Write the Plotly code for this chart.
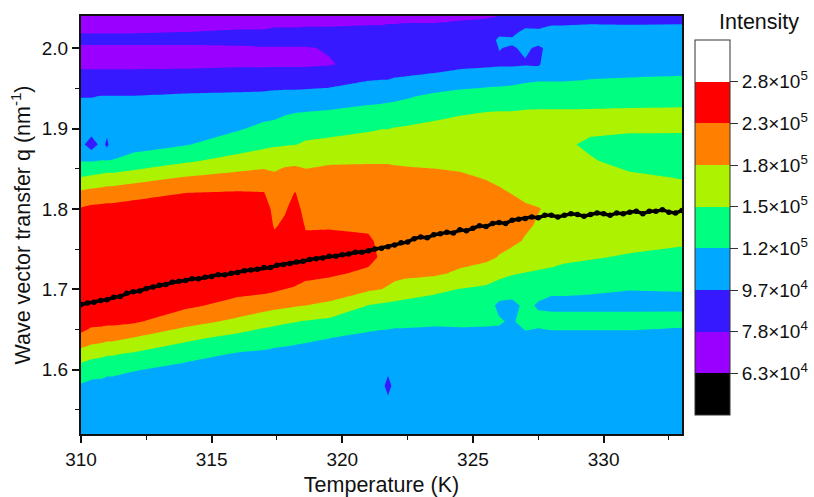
import math
import numpy as np
import plotly.graph_objects as go

q_rows = [1.52,1.54,1.56,1.58,1.60,1.62,1.64,1.66,1.68,1.70,1.72,1.74,1.76,1.78,1.80,1.82,1.84,1.86,1.88,1.90,1.92,1.94,1.96,1.98,2.00,2.01,2.02,2.04]

# intensity in units of 10^4, one list per temperature, ordered as q_rows
t_310 = [10.7,10.7,10.7,11.7,13.6,16.6,21.9,24.5,26.2,26.8,26.8,26.8,26.8,26.8,23.0,19.0,14.7,11.8,10.2,10.6,10.2,9.6,8.5,7.5,7.5,8.3,7.7,7.3]
t_3104 = [10.7,10.7,10.7,11.3,13.1,15.8,20.4,24.0,25.6,26.8,26.8,26.8,26.8,26.8,23.8,19.6,15.1,11.8,8.7,10.7,10.2,9.6,8.5,7.5,7.5,8.3,7.7,7.3]
t_3108 = [10.7,10.7,10.7,11.2,13.0,15.4,20.0,23.9,25.4,26.8,26.8,26.8,26.8,26.8,23.9,20.0,15.5,12.0,10.3,10.7,10.2,9.7,8.5,7.5,7.5,8.3,7.7,7.3]
t_311 = [10.7,10.7,10.7,11.0,12.7,15.1,19.5,23.8,25.3,26.8,26.8,26.8,26.8,26.8,24.0,20.3,15.8,12.0,9.2,10.3,10.2,9.7,8.5,7.5,7.5,8.3,7.7,7.3]
t_3112 = [10.7,10.7,10.7,11.0,12.7,15.1,19.5,23.8,25.3,26.8,26.8,26.8,26.8,26.8,24.0,20.3,15.8,12.0,11.0,10.7,10.2,9.7,8.5,7.5,7.5,8.3,7.7,7.3]
t_312 = [10.7,10.7,10.7,10.8,12.1,14.5,18.3,23.3,25.1,26.8,26.8,26.8,26.8,26.8,24.5,21.1,16.5,12.6,11.3,10.8,10.3,9.7,8.5,7.5,7.5,8.3,7.7,7.3]
t_314 = [10.7,10.7,10.7,10.7,11.2,12.9,15.6,19.9,23.5,25.1,26.8,26.8,26.8,26.8,25.6,22.6,18.3,14.3,11.8,11.1,10.4,9.9,8.6,7.5,7.5,8.3,7.8,7.3]
t_316 = [10.7,10.7,10.7,10.6,10.8,11.8,13.9,17.4,21.2,24.0,25.6,26.8,26.8,26.8,25.6,23.0,19.5,15.9,13.3,11.7,10.7,10.0,8.7,7.6,7.6,8.3,7.9,7.3]
t_317 = [10.7,10.7,10.7,10.5,10.7,11.6,13.2,16.0,20.0,23.8,25.6,26.8,26.8,26.8,25.6,22.8,19.8,16.8,14.1,12.5,11.2,10.1,8.7,7.6,7.7,8.3,7.9,7.3]
t_3174 = [10.7,10.7,10.7,10.5,10.7,11.4,13.0,15.6,19.4,23.3,24.5,25.1,24.0,22.1,21.1,20.0,18.9,17.0,14.4,12.7,11.3,10.2,8.8,7.6,7.7,8.3,8.0,7.3]
t_3178 = [10.7,10.7,10.7,10.5,10.7,11.3,12.8,15.2,19.0,22.6,24.2,25.1,24.5,23.5,22.1,21.2,19.9,17.3,14.6,13.0,11.7,10.3,8.8,7.6,7.7,8.3,8.0,7.3]
t_3182 = [10.7,10.7,10.7,10.5,10.7,11.2,12.6,14.9,18.6,22.3,24.0,25.1,25.6,25.6,24.5,22.8,20.0,17.5,14.7,13.2,11.9,10.3,8.8,7.6,7.7,8.3,8.0,7.3]
t_3186 = [10.7,10.7,10.7,10.5,10.7,11.1,12.4,14.6,18.3,21.7,23.5,24.2,23.5,22.2,21.0,20.0,19.0,17.6,15.3,13.4,12.0,10.4,8.8,7.6,7.7,8.3,8.0,7.4]
t_3195 = [10.7,10.7,10.7,10.5,10.6,11.0,12.0,14.1,17.5,20.8,23.3,24.5,23.5,22.3,21.2,20.1,19.1,18.0,15.7,13.7,12.2,10.6,8.9,7.7,7.9,8.3,8.0,7.4]
t_321 = [10.7,10.7,10.7,10.5,10.6,10.8,11.4,13.0,14.7,18.8,21.9,23.8,23.0,22.2,21.1,20.0,19.0,18.1,16.2,14.4,12.7,11.1,9.6,8.3,8.0,8.1,8.1,7.4]
t_3215 = [10.7,10.7,10.7,10.3,10.4,10.7,11.3,12.7,14.3,18.3,20.3,22.1,22.1,21.7,21.0,20.1,19.0,18.1,16.4,14.7,12.9,11.2,9.7,8.5,8.0,8.1,8.1,7.4]
t_32175 = [10.7,10.7,10.1,9.0,10.1,10.7,11.3,12.6,14.1,17.8,19.9,21.7,21.7,21.4,20.8,20.0,19.0,18.1,16.4,14.7,13.0,11.3,9.7,8.5,8.0,8.1,8.1,7.5]
t_322 = [10.7,10.7,10.7,10.3,10.4,10.6,11.2,12.5,14.0,17.2,19.5,21.2,21.4,21.2,20.7,19.9,19.0,18.0,16.3,14.9,13.1,11.4,9.9,8.5,8.0,8.1,8.1,7.5]
t_3224 = [10.7,10.7,10.7,10.5,10.5,10.6,11.2,12.5,13.9,16.4,19.3,20.7,21.2,21.2,20.5,19.7,18.8,18.0,16.4,15.1,13.1,11.7,10.0,8.6,8.1,8.2,8.2,7.5]
t_3235 = [10.7,10.7,10.7,10.5,10.5,10.6,11.2,12.3,13.6,15.4,19.0,20.3,20.7,20.7,20.3,19.7,18.8,17.8,16.6,15.4,14.1,12.4,10.4,8.8,8.2,8.2,8.2,7.5]
t_3245 = [10.7,10.7,10.7,10.5,10.5,10.6,11.2,12.4,13.5,14.7,17.7,19.7,20.1,20.3,20.1,19.5,18.6,17.6,16.6,15.5,14.6,12.7,11.0,9.1,8.3,8.3,8.3,7.6]
t_3255 = [10.7,10.7,10.7,10.5,10.5,10.6,11.2,12.3,13.2,14.3,16.3,19.3,19.7,19.9,19.7,19.0,18.1,17.2,16.4,15.5,14.8,13.1,11.1,9.3,8.5,8.4,8.3,7.7]
t_326 = [10.7,10.7,10.7,10.5,10.5,10.6,11.2,12.2,11.4,13.6,15.6,18.1,19.3,19.5,19.3,18.6,17.8,17.0,16.2,15.5,14.9,13.2,11.2,9.4,9.7,10.1,9.1,7.8]
t_3265 = [10.7,10.7,10.7,10.5,10.5,10.6,11.2,11.6,11.2,13.2,15.0,17.1,19.0,19.3,19.0,18.2,17.4,16.8,16.0,15.5,14.9,13.4,11.3,9.4,9.5,9.9,9.2,8.0]
t_327 = [10.7,10.7,10.7,10.5,10.5,10.6,11.2,13.0,12.5,13.2,14.7,16.2,18.0,18.8,18.6,17.8,17.2,16.6,16.0,15.5,15.0,13.7,11.6,9.5,9.9,10.5,10.1,8.3]
t_3275 = [10.7,10.7,10.7,10.5,10.5,10.6,11.2,12.5,11.7,12.7,14.5,15.9,16.6,18.0,18.4,17.4,16.8,16.4,16.0,15.5,15.0,13.9,11.8,9.4,9.4,10.3,9.9,8.7]
t_328 = [10.7,10.7,10.7,10.5,10.5,10.6,11.0,13.2,11.2,12.5,14.3,15.7,16.2,17.4,17.8,17.2,16.8,16.2,15.9,15.5,15.0,13.9,11.8,11.0,10.1,10.5,10.3,8.8]
t_3285 = [10.7,10.7,10.7,10.5,10.5,10.6,11.0,13.2,11.2,12.5,14.0,15.3,16.0,16.8,17.4,16.8,16.4,15.9,15.2,15.5,15.0,13.9,11.8,11.0,10.5,10.5,10.3,8.8]
t_3295 = [10.7,10.7,10.7,10.5,10.5,10.6,11.0,13.2,11.2,12.3,13.6,15.0,15.9,16.4,16.8,16.4,15.7,15.0,14.3,15.3,15.0,14.0,12.0,11.1,10.6,10.5,10.3,9.0]
t_331 = [10.7,10.7,10.7,10.5,10.5,10.6,11.0,13.2,11.2,12.0,13.2,14.5,15.7,16.4,16.4,15.9,15.2,13.9,13.6,15.3,15.0,14.2,12.1,11.2,10.7,10.6,10.4,8.8]
t_333 = [10.7,10.7,10.7,10.5,10.5,10.6,11.1,12.5,11.6,12.0,13.0,14.0,15.2,16.0,16.4,15.7,14.6,13.9,13.7,15.2,15.0,14.3,12.2,11.3,10.8,10.7,10.5,8.8]

temperatures = [310,310.4,310.8,311,311.2,312,314,316,317,317.4,317.8,318.2,318.6,319.5,321,321.5,321.75,322,322.4,323.5,324.5,325.5,326,326.5,327,327.5,328,328.5,329.5,331,333]
intensity_columns = [t_310,t_3104,t_3108,t_311,t_3112,t_312,t_314,t_316,t_317,t_3174,t_3178,t_3182,t_3186,t_3195,t_321,t_3215,t_32175,t_322,t_3224,t_3235,t_3245,t_3255,t_326,t_3265,t_327,t_3275,t_328,t_3285,t_3295,t_331,t_333]

peak_temperature = [310+0.25*i for i in range(93)]
peak_q = [1.681,1.683,1.684,1.686,1.687,1.690,1.691,1.695,1.697,1.698,1.701,1.703,1.705,1.706,1.709,1.710,
          1.711,1.713,1.713,1.715,1.716,1.718,1.718,1.720,1.721,1.723,1.724,1.725,1.727,1.727,1.730,1.731,
          1.732,1.734,1.735,1.737,1.738,1.739,1.741,1.741,1.743,1.744,1.746,1.746,1.748,1.750,1.751,1.753,
          1.755,1.758,1.759,1.763,1.765,1.764,1.768,1.769,1.771,1.770,1.774,1.773,1.776,1.779,1.778,1.782,
          1.783,1.782,1.786,1.787,1.788,1.790,1.789,1.792,1.792,1.790,1.792,1.794,1.793,1.791,1.793,1.795,
          1.794,1.792,1.795,1.794,1.796,1.797,1.794,1.797,1.797,1.799,1.796,1.795,1.798]

level_labels = ["6.3×10<sup>4</sup>","7.8×10<sup>4</sup>","9.7×10<sup>4</sup>","1.2×10<sup>5</sup>","1.5×10<sup>5</sup>","1.8×10<sup>5</sup>","2.3×10<sup>5</sup>","2.8×10<sup>5</sup>"]
band_colors = ["#000000","#9900FF","#3719FF","#00A8FF","#00FF80","#ADF200","#FF8000","#FF0000","#FFFFFF"]

log_z = np.log10(np.array(intensity_columns).T * 1e4)
start = math.log10(6.3e4)
end = math.log10(2.8e5)
size = (end - start) / 7
levels = [start + i * size for i in range(8)]

colorscale = []
for i, c in enumerate(band_colors):
    colorscale += [[i / 9, c], [(i + 1) / 9, c]]

FONT = "Arial, 'Liberation Sans', sans-serif"

fig = go.Figure()
fig.add_trace(go.Contour(
    x=temperatures, y=q_rows, z=log_z,
    zmin=start - size, zmax=end + size, zauto=False,
    colorscale=colorscale,
    autocontour=False,
    contours=dict(start=start, end=end, size=size, coloring="fill", showlines=False),
    line=dict(width=0, smoothing=0),
    hoverinfo="skip",
    colorbar=dict(
        x=(695 - 81) / 601, xanchor="left", xpad=0,
        y=(434 - 40) / 418, yanchor="top", ypad=0,
        len=375, lenmode="pixels", thickness=35, thicknessmode="pixels",
        outlinecolor="#333333", outlinewidth=1,
        tickmode="array", tickvals=levels, ticktext=level_labels,
        ticks="outside", ticklen=8, tickwidth=1, tickcolor="#333333",
        tickfont=dict(family=FONT, size=19, color="#111111"),
    ),
))
fig.add_trace(go.Scatter(
    x=peak_temperature, y=peak_q, mode="lines+markers",
    line=dict(color="black", width=3.5),
    marker=dict(color="black", size=5.5),
    showlegend=False, hoverinfo="skip",
))
axis_common = dict(
    showgrid=False, zeroline=False, showline=True, linecolor="#111111", linewidth=2, mirror=True,
    ticks="outside", ticklen=7, tickwidth=1.5, tickcolor="#111111",
    tickfont=dict(family=FONT, size=19, color="#111111"),
)
fig.update_layout(
    width=814, height=497, autosize=False,
    margin=dict(l=81, r=132, t=16, b=63, autoexpand=False),
    paper_bgcolor="white", plot_bgcolor="white",
    showlegend=False,
    xaxis=dict(range=[310, 333], tickmode="linear", tick0=310, dtick=5,
               minor=dict(tick0=310, dtick=2.5, ticks="outside", ticklen=4, tickwidth=1, tickcolor="#111111"),
               title=dict(text="Temperature (K)", font=dict(family=FONT, size=21.5, color="#111111"), standoff=9),
               **axis_common),
    yaxis=dict(range=[1.52, 2.04], tickmode="linear", tick0=1.6, dtick=0.1, tickformat=".1f",
               minor=dict(tick0=1.55, dtick=0.1, ticks="outside", ticklen=4, tickwidth=1, tickcolor="#111111"),
               title=dict(text="Wave vector transfer q (nm<sup>-1</sup>)", font=dict(family=FONT, size=21.5, color="#111111"), standoff=5),
               **axis_common),
    annotations=[dict(text="Intensity", xref="paper", yref="paper",
                      x=(759 - 81) / 601, y=(434 - 22) / 418, xanchor="center", yanchor="middle",
                      showarrow=False, font=dict(family=FONT, size=21.5, color="#111111"))],
)
fig.write_html("out.html", config={"displayModeBar": False}, post_script="document.body.style.margin='0';")
